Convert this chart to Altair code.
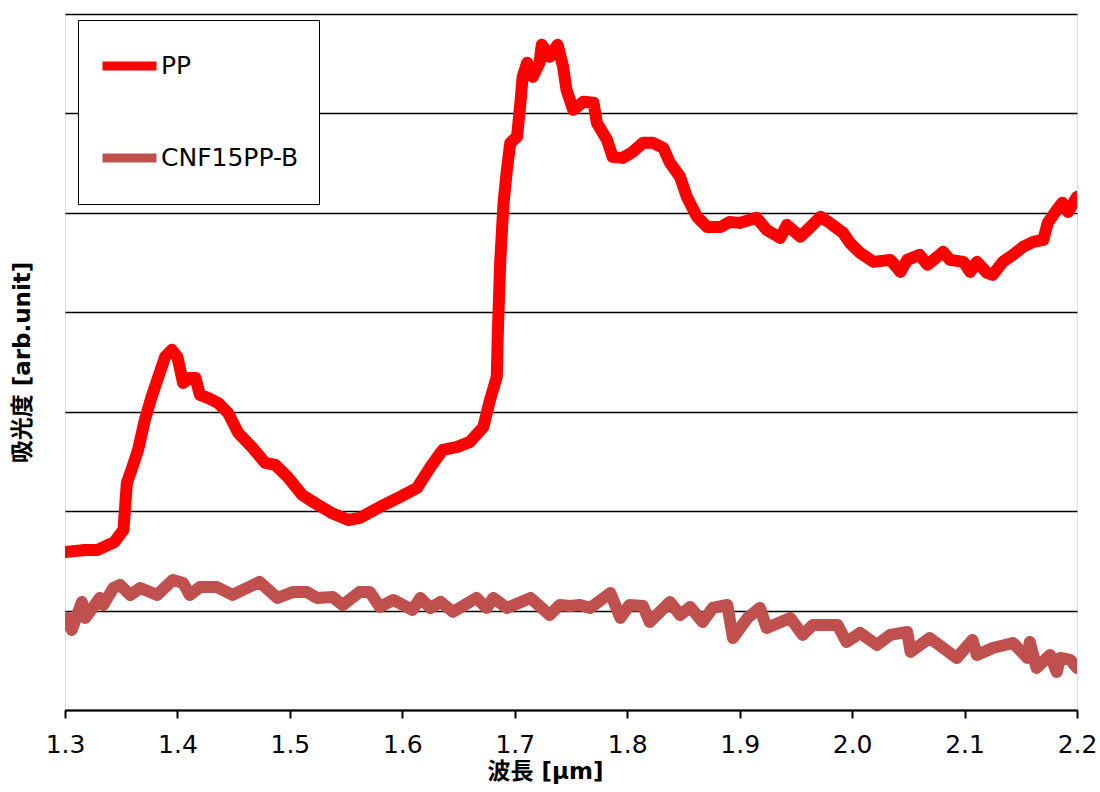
import altair as alt
import pandas as pd

# PP spectrum (wavelength in µm, absorbance in arb. units)
pp_x = [1.300, 1.318, 1.329, 1.344, 1.352, 1.355, 1.360, 1.365, 1.371, 1.377, 1.383, 1.389,
        1.395, 1.400, 1.405, 1.411, 1.416, 1.420, 1.427, 1.436, 1.445, 1.454, 1.466, 1.478,
        1.487, 1.498, 1.511, 1.522, 1.537, 1.552, 1.562, 1.580, 1.598, 1.613, 1.625, 1.636,
        1.649, 1.660, 1.672, 1.678, 1.684, 1.685, 1.687, 1.690, 1.693, 1.696, 1.702, 1.705,
        1.707, 1.711, 1.716, 1.722, 1.724, 1.731, 1.738, 1.743, 1.746, 1.752, 1.761, 1.770,
        1.773, 1.782, 1.787, 1.796, 1.805, 1.814, 1.823, 1.832, 1.838, 1.847, 1.853, 1.862,
        1.871, 1.883, 1.891, 1.900, 1.915, 1.924, 1.936, 1.942, 1.954, 1.963, 1.972, 1.980,
        1.992, 1.998, 2.007, 2.019, 2.034, 2.043, 2.049, 2.060, 2.067, 2.081, 2.087, 2.099,
        2.105, 2.111, 2.120, 2.125, 2.134, 2.143, 2.152, 2.161, 2.170, 2.174, 2.182, 2.187,
        2.192, 2.200]
pp_y = [1.590, 1.610, 1.610, 1.690, 1.811, 2.284, 2.445, 2.616, 2.918, 3.149, 3.350, 3.551,
        3.622, 3.551, 3.290, 3.340, 3.340, 3.169, 3.139, 3.089, 2.988, 2.787, 2.646, 2.485,
        2.465, 2.344, 2.163, 2.083, 1.982, 1.911, 1.932, 2.042, 2.143, 2.233, 2.445, 2.616,
        2.646, 2.696, 2.847, 3.119, 3.350, 3.823, 4.497, 5.101, 5.433, 5.704, 5.765, 6.107,
        6.368, 6.509, 6.368, 6.509, 6.690, 6.569, 6.690, 6.469, 6.237, 6.036, 6.117, 6.107,
        5.905, 5.734, 5.563, 5.553, 5.614, 5.704, 5.704, 5.654, 5.503, 5.362, 5.161, 4.960,
        4.859, 4.859, 4.909, 4.899, 4.950, 4.829, 4.748, 4.879, 4.759, 4.859, 4.960, 4.899,
        4.799, 4.698, 4.598, 4.507, 4.527, 4.406, 4.527, 4.577, 4.477, 4.608, 4.527, 4.507,
        4.406, 4.507, 4.396, 4.376, 4.507, 4.577, 4.658, 4.708, 4.728, 4.899, 5.030, 5.101,
        5.010, 5.161]

# CNF15PP-B spectrum
cnf_x = [1.300, 1.303, 1.306, 1.315, 1.318, 1.331, 1.334, 1.343, 1.349, 1.358, 1.367, 1.382,
         1.396, 1.405, 1.411, 1.420, 1.435, 1.449, 1.473, 1.489, 1.503, 1.515, 1.524, 1.538,
         1.547, 1.562, 1.571, 1.580, 1.592, 1.609, 1.616, 1.625, 1.634, 1.645, 1.666, 1.675,
         1.681, 1.693, 1.714, 1.731, 1.740, 1.749, 1.758, 1.767, 1.785, 1.794, 1.802, 1.814,
         1.820, 1.838, 1.847, 1.856, 1.867, 1.876, 1.889, 1.894, 1.907, 1.918, 1.924, 1.945,
         1.956, 1.965, 1.987, 1.995, 2.007, 2.022, 2.034, 2.049, 2.052, 2.069, 2.081, 2.093,
         2.107, 2.111, 2.125, 2.143, 2.156, 2.158, 2.164, 2.176, 2.182, 2.185, 2.194, 2.200]
cnf_y = [0.855, 0.926, 0.805, 1.087, 0.926, 1.127, 1.056, 1.227, 1.258, 1.157, 1.227, 1.157,
         1.308, 1.278, 1.157, 1.237, 1.237, 1.157, 1.288, 1.127, 1.187, 1.187, 1.127, 1.137,
         1.056, 1.187, 1.187, 1.036, 1.107, 1.006, 1.127, 1.026, 1.087, 0.986, 1.127, 1.026,
         1.127, 1.026, 1.127, 0.956, 1.056, 1.046, 1.056, 1.026, 1.177, 0.926, 1.056, 1.046,
         0.885, 1.087, 0.956, 1.036, 0.885, 1.026, 1.056, 0.724, 0.926, 1.026, 0.825, 0.926,
         0.755, 0.855, 0.855, 0.684, 0.775, 0.654, 0.755, 0.785, 0.584, 0.724, 0.624, 0.523,
         0.704, 0.553, 0.624, 0.674, 0.523, 0.684, 0.423, 0.553, 0.382, 0.523, 0.503, 0.423]

series_names = ["PP", "CNF15PP-B"]
series_colors = ["#FF0000", "#C0504D"]
x_ticks = [1.3, 1.4, 1.5, 1.6, 1.7, 1.8, 1.9, 2.0, 2.1, 2.2]
y_grid = [0, 1, 2, 3, 4, 5, 6, 7]

df = pd.concat([
    pd.DataFrame({"wl": pp_x, "abs": pp_y, "series": "PP", "ord": 1}),
    pd.DataFrame({"wl": cnf_x, "abs": cnf_y, "series": "CNF15PP-B", "ord": 0}),
], ignore_index=True)

FONT = "DejaVu Sans, Verdana, Noto Sans CJK JP"

chart = alt.Chart(df).mark_line(
    strokeWidth=12, strokeCap="round", strokeJoin="round", clip=True
).encode(
    x=alt.X("wl:Q",
            scale=alt.Scale(domain=[1.3, 2.2], nice=False, zero=False),
            axis=alt.Axis(values=x_ticks, format=".1f", title="波長 [μm]",
                          grid=False, tickSize=8, tickWidth=2, tickColor="black",
                          domainColor="black", domainWidth=2,
                          labelFontSize=25, labelColor="black", labelFont=FONT,
                          labelPadding=14, labelFlush=False,
                          titleFontSize=23, titleFontWeight="bold", titleFont=FONT,
                          titleColor="black", titlePadding=3, titleX=480)),
    y=alt.Y("abs:Q",
            scale=alt.Scale(domain=[0, 7], nice=False),
            axis=alt.Axis(values=y_grid, labels=False, ticks=False, domain=False,
                          grid=True, gridColor="black", gridWidth=1.5, gridOpacity=1,
                          title="吸光度 [arb.unit]", titleFontSize=23,
                          titleFontWeight="bold", titleFont=FONT, titleColor="black",
                          titlePadding=31)),
    color=alt.Color("series:N",
                    scale=alt.Scale(domain=series_names, range=series_colors),
                    legend=alt.Legend(orient="none", legendX=13, legendY=6, title=None,
                                      symbolType="stroke", symbolSize=2916,
                                      symbolStrokeWidth=9, labelFontSize=25,
                                      labelFont=FONT, labelColor="black",
                                      labelOffset=0, rowPadding=40, padding=20,
                                      clipHeight=52,
                                      strokeColor="black", fillColor="white")),
    order=alt.Order("ord:Q"),
    detail="series:N",
).properties(
    width=1012, height=696,
    autosize=alt.AutoSizeParams(type="none"),
    padding={"left": 65, "top": 14, "right": 23, "bottom": 82},
).configure_view(
    stroke="black", strokeWidth=2
).configure_legend(
    strokeWidth=2
).configure(background="white")

chart.save("out.html", embed_options={"renderer": "svg", "actions": False})
